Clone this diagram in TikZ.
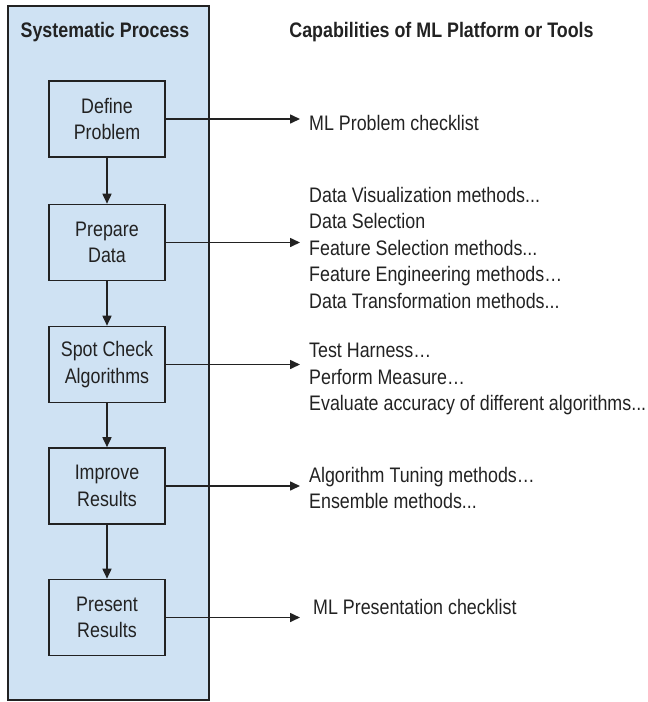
\documentclass[tikz,border=0pt]{standalone}
\usepackage{fontspec}
\setmainfont[FakeStretch=0.85]{Liberation Sans}
\usetikzlibrary{arrows.meta}
\definecolor{panelblue}{HTML}{CFE2F3}
\definecolor{inkgray}{HTML}{222222}

\begin{document}
\begin{tikzpicture}[x=1pt,y=1pt]
            \tikzstyle{every node}+=[inner sep=0pt, text=inkgray, font=\fontsize{21}{26.5}\selectfont]
            \tikzstyle{stepbox}=[draw=inkgray, line width=1.6pt, fill=panelblue, minimum width=116pt, minimum height=76pt, align=center]
            \tikzstyle{flow}=[draw=inkgray, line width=1.6pt, -{Triangle[length=10pt,width=9pt]}]
            \tikzstyle{listtext}=[anchor=north west, align=left]
            \useasboundingbox (0,0) rectangle (648,-702);
            \draw [inkgray, line width=1.6pt, fill=panelblue] (8,-6) rectangle (209,-700);
            \node (lefttitle) at (105,-32) {\bfseries Systematic Process};
            \node (righttitle) at (441.5,-32) {\bfseries Capabilities of ML Platform or Tools};
            \node [stepbox] (define) at (107,-119) {Define\\Problem};
            \node [stepbox] (prepare) at (107,-242.5) {Prepare\\Data};
            \node [stepbox] (spot) at (107,-364.5) {Spot Check\\Algorithms};
            \node [stepbox] (improve) at (107,-486) {Improve\\Results};
            \node [stepbox] (present) at (107,-617.5) {Present\\Results};
            \draw [flow] (define) -- (prepare);
            \draw [flow] (prepare) -- (spot);
            \draw [flow] (spot) -- (improve);
            \draw [flow] (improve) -- (present);
            \coordinate (tipline) at (300,0);
            \draw [flow] (define.east) -- (define.east -| tipline);
            \draw [flow] (prepare.east) -- (prepare.east -| tipline);
            \draw [flow] (spot.east) -- (spot.east -| tipline);
            \draw [flow] (improve.east) -- (improve.east -| tipline);
            \draw [flow] (present.east) -- (present.east -| tipline);
            \node [listtext] (definelist) at (309,-115) {ML Problem checklist};
            \node [listtext] (preparelist) at (309,-187) {Data Visualization methods...\\Data Selection\\Feature Selection methods...\\Feature Engineering methods\dots\\Data Transformation methods...};
            \node [listtext] (spotlist) at (309,-343) {Test Harness\dots\\Perform Measure\dots\\Evaluate accuracy of different algorithms...};
            \node [listtext] (improvelist) at (309,-467) {Algorithm Tuning methods\dots\\Ensemble methods...};
            \node [listtext] (presentlist) at (313,-599) {ML Presentation checklist};
\end{tikzpicture}
\end{document}
